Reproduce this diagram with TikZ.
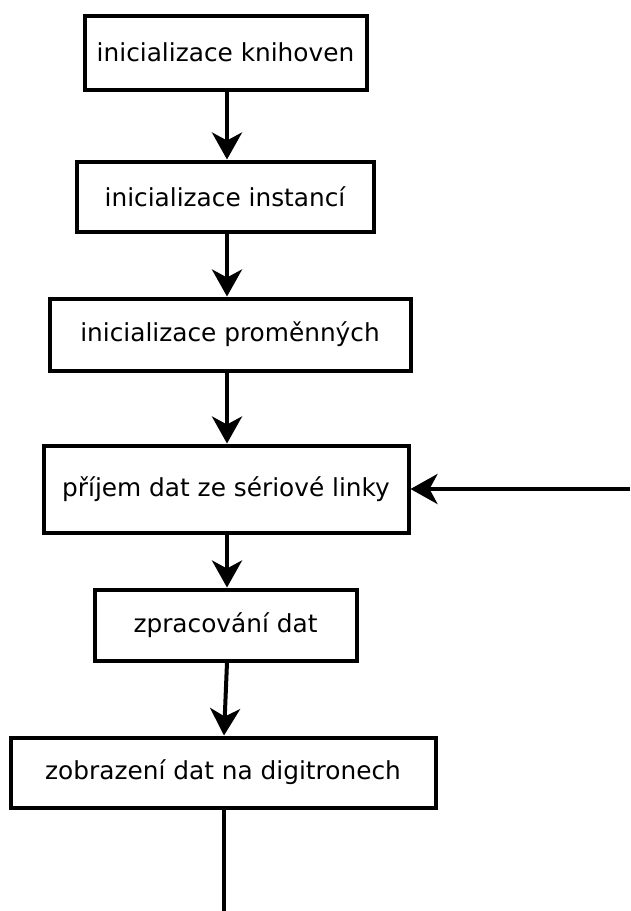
\documentclass[tikz,border=0pt]{standalone}
\usepackage{fontspec}
\setmainfont{DejaVu Sans}
\usetikzlibrary{arrows.meta}
\begin{document}
\begin{tikzpicture}[x=1pt,y=-1pt,
  stepbox/.style={draw=black,line width=4pt,fill=white,inner sep=0pt,font=\fontsize{24.8}{29}\selectfont,anchor=center},
  flow/.style={line width=4pt,-{Stealth[length=27pt,width=30pt,inset=8pt]}},
  plainline/.style={line width=4pt}]
\useasboundingbox (0,0) rectangle (630,911);
\node[stepbox,minimum width=282pt,minimum height=74pt] (b1) at (225.5,52.5) {inicializace knihoven};
\node[stepbox,minimum width=297pt,minimum height=70pt] (b2) at (225,196.5) {inicializace instancí};
\node[stepbox,minimum width=361pt,minimum height=72pt] (b3) at (230,334.5) {inicializace proměnných};
\node[stepbox,minimum width=365pt,minimum height=87pt] (b4) at (226,489) {příjem dat ze sériové linky};
\node[stepbox,minimum width=262pt,minimum height=71pt] (b5) at (225.5,625) {zpracování dat};
\node[stepbox,minimum width=425pt,minimum height=70pt] (b6) at (223,772.5) {zobrazení dat na digitronech};
\coordinate (inR) at (630,489);
\coordinate (outB) at (224,911);
\draw[flow] (b1.south -| 227,0) -- (b2.north -| 227,0);
\draw[flow] (b2.south -| 227,0) -- (b3.north -| 227,0);
\draw[flow] (b3.south -| 227,0) -- (b4.north -| 227,0);
\draw[flow] (b4.south -| 227,0) -- (b5.north -| 227,0);
\draw[flow] (b5.south -| 227,0) -- (b6.north -| 224,0);
\draw[flow] (inR) -- (b4.east);
\draw[plainline] (b6.south -| 224,0) -- (outB);
\end{tikzpicture}
\end{document}
